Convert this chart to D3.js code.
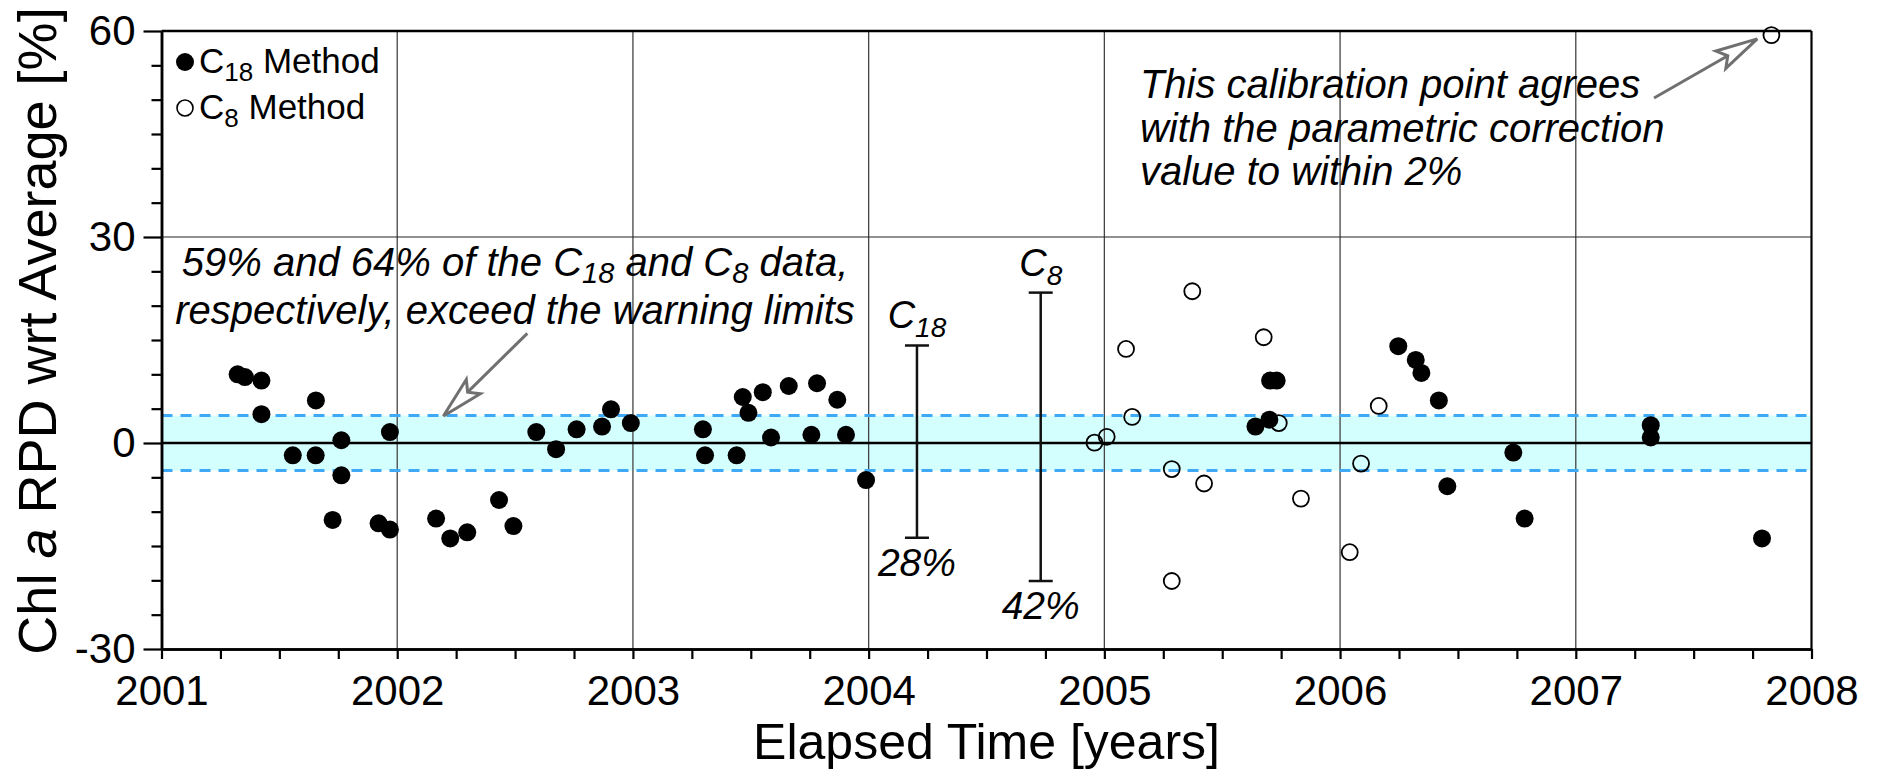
<!DOCTYPE html>
<html>
<head>
<meta charset="utf-8">
<script src="https://cdn.jsdelivr.net/npm/d3@7"></script>
<style>
  html, body { margin: 0; padding: 0; background: #fff; }
  svg { display: block; font-family: "Liberation Sans", Arial, Helvetica, sans-serif; }
</style>
</head>
<body>
<svg id="chart" width="1879" height="773"></svg>
<script>
// ---------------- DATA ----------------
const xMajorTicks = [2001, 2002, 2003, 2004, 2005, 2006, 2007, 2008];
const yMajorTicks = [-30, 0, 30, 60];

// C18 method (filled circles): decimal year, RPD %
const c18Years = [2001.323, 2001.354, 2001.424, 2001.424, 2001.557, 2001.654, 2001.655, 2001.726,
  2001.763, 2001.763, 2001.921, 2001.969, 2001.969, 2002.165, 2002.225, 2002.297, 2002.432, 2002.493,
  2002.590, 2002.674, 2002.761, 2002.869, 2002.907, 2002.991, 2003.297, 2003.306, 2003.440, 2003.466,
  2003.490, 2003.551, 2003.586, 2003.661, 2003.757, 2003.781, 2003.867, 2003.904, 2003.989,
  2005.641, 2005.700, 2005.703, 2005.731, 2006.247, 2006.321, 2006.345, 2006.419, 2006.455,
  2006.735, 2006.783, 2007.318, 2007.318, 2007.790];
const c18Values = [10.0, 9.6, 9.1, 4.2, -1.8, -1.8, 6.2, -11.2,
  0.4, -4.7, -11.7, -12.6, 1.6, -11.0, -13.9, -13.0, -8.3, -12.1,
  1.6, -0.9, 2.0, 2.4, 4.9, 2.9, 2.0, -1.8, -1.8, 6.7,
  4.4, 7.4, 0.8, 8.3, 1.2, 8.7, 6.3, 1.2, -5.4,
  2.4, 3.4, 9.1, 9.1, 14.1, 12.1, 10.2, 6.2, -6.3,
  -1.4, -11.0, 2.6, 0.8, -13.9];

// C8 method (open circles)
const c8Years = [2004.958, 2005.010, 2005.092, 2005.118, 2005.286, 2005.286, 2005.373, 2005.423,
  2005.676, 2005.740, 2005.834, 2006.041, 2006.089, 2006.164, 2007.830];
const c8Values = [0.05, 0.9, 13.7, 3.8, -3.8, -20.1, 22.1, -5.9,
  15.4, 2.9, -8.1, -15.9, -3.0, 5.4, 59.4];

// warning limits (+/- %)
const warningLimits = [-4, 4];

// uncertainty bars: name, x, low, high, label
const barNames = ["18", "8"];
const barYears = [2004.205, 2004.730];
const barLows = [-13.8, -20.1];
const barHighs = [14.2, 21.9];
const barLabels = ["28%", "42%"];

// ---------------- LAYOUT ----------------
const svg = d3.select("#chart");
const x = d3.scaleLinear().domain([2001, 2008]).range([161.5, 1811.5]);
const y = d3.scaleLinear().domain([-30, 60]).range([649, 31]);
const font = '"Liberation Sans", Arial, Helvetica, sans-serif';

const xMinor = d3.range(2001, 2008.001, 0.25).filter(v => Math.abs(v - Math.round(v)) > 1e-6);
const yMinor = d3.range(-30, 60.001, 5).filter(v => v % 30 !== 0);

// band
svg.append("rect")
  .attr("x", x(2001)).attr("width", x(2008) - x(2001))
  .attr("y", y(warningLimits[1])).attr("height", y(warningLimits[0]) - y(warningLimits[1]))
  .attr("fill", "#d4ffff");

// vertical grid lines
svg.append("g").selectAll("line").data(xMajorTicks.slice(1, -1)).join("line")
  .attr("x1", d => x(d)).attr("x2", d => x(d))
  .attr("y1", y(60)).attr("y2", y(-30))
  .attr("stroke", "#444").attr("stroke-width", 1.3);

// horizontal grid at 30
svg.append("line")
  .attr("x1", x(2001)).attr("x2", x(2008)).attr("y1", y(30)).attr("y2", y(30))
  .attr("stroke", "#222").attr("stroke-width", 1.2);

// warning limit dashed lines
svg.append("g").selectAll("line").data(warningLimits).join("line")
  .attr("x1", x(2001)).attr("x2", x(2008))
  .attr("y1", d => y(d)).attr("y2", d => y(d))
  .attr("stroke", "#3fa9f5").attr("stroke-width", 3).attr("stroke-dasharray", "11,8");

// zero line
svg.append("line")
  .attr("x1", x(2001)).attr("x2", x(2008)).attr("y1", y(0)).attr("y2", y(0))
  .attr("stroke", "#000").attr("stroke-width", 2.5);

// top and right borders
svg.append("line").attr("x1", x(2001)).attr("x2", x(2008)).attr("y1", y(60)).attr("y2", y(60))
  .attr("stroke", "#000").attr("stroke-width", 2.5);
svg.append("line").attr("x1", x(2008)).attr("x2", x(2008)).attr("y1", y(60)).attr("y2", y(-30))
  .attr("stroke", "#000").attr("stroke-width", 2.2);

// axes
function styleAxis(g) {
  g.selectAll(".domain").attr("stroke", "#000").attr("stroke-width", 2.5);
  g.selectAll(".tick line").attr("stroke", "#000").attr("stroke-width", 2.2);
  g.selectAll("text").attr("font-family", font).attr("fill", "#000");
}
const xAxisG = svg.append("g").attr("transform", `translate(0,${y(-30)})`)
  .call(d3.axisBottom(x).tickValues(xMajorTicks).tickFormat(d => String(d)).tickSize(10).tickPadding(16).tickSizeOuter(0));
styleAxis(xAxisG);
xAxisG.selectAll("text").attr("font-size", 42);
const xMinorG = svg.append("g").attr("transform", `translate(0,${y(-30)})`)
  .call(d3.axisBottom(x).tickValues(xMinor).tickFormat("").tickSize(10).tickSizeOuter(0));
styleAxis(xMinorG);

const yAxisG = svg.append("g").attr("transform", `translate(${x(2001)},0)`)
  .call(d3.axisLeft(y).tickValues(yMajorTicks).tickFormat(d => String(d)).tickSize(18).tickPadding(8).tickSizeOuter(0));
styleAxis(yAxisG);
yAxisG.selectAll("text").attr("font-size", 42);
const yMinorG = svg.append("g").attr("transform", `translate(${x(2001)},0)`)
  .call(d3.axisLeft(y).tickValues(yMinor).tickFormat("").tickSize(10).tickSizeOuter(0));
styleAxis(yMinorG);

// axis titles
svg.append("text")
  .attr("x", (x(2001) + x(2008)) / 2).attr("y", 759)
  .attr("text-anchor", "middle").attr("font-size", 50).attr("font-family", font)
  .text("Elapsed Time [years]");

const yt = svg.append("text")
  .attr("transform", `translate(56,331) rotate(-90)`)
  .attr("text-anchor", "middle").attr("font-size", 54).attr("font-family", font);
yt.append("tspan").text("Chl ");
yt.append("tspan").attr("font-style", "italic").text("a");
yt.append("tspan").text(" RPD wrt Average [%]");

// uncertainty bars
const bars = barNames.map((n, i) => ({ n, x: barYears[i], lo: barLows[i], hi: barHighs[i], lab: barLabels[i] }));
const bg = svg.append("g").attr("stroke", "#111").attr("stroke-width", 2.5);
bars.forEach(b => {
  bg.append("line").attr("x1", x(b.x)).attr("x2", x(b.x)).attr("y1", y(b.hi)).attr("y2", y(b.lo));
  bg.append("line").attr("x1", x(b.x) - 12).attr("x2", x(b.x) + 12).attr("y1", y(b.hi)).attr("y2", y(b.hi));
  bg.append("line").attr("x1", x(b.x) - 12).attr("x2", x(b.x) + 12).attr("y1", y(b.lo)).attr("y2", y(b.lo));
  const t = svg.append("text").attr("x", x(b.x)).attr("y", y(b.hi) - 17)
    .attr("text-anchor", "middle").attr("font-family", font).attr("font-style", "italic").attr("font-size", 38);
  t.append("tspan").text("C");
  t.append("tspan").attr("font-size", 28).attr("dy", 9).text(b.n);
  svg.append("text").attr("x", x(b.x)).attr("y", y(b.lo) + 38)
    .attr("text-anchor", "middle").attr("font-family", font).attr("font-style", "italic").attr("font-size", 39)
    .text(b.lab);
});

// points
const c18 = c18Years.map((d, i) => ({ x: d, y: c18Values[i] }));
const c8 = c8Years.map((d, i) => ({ x: d, y: c8Values[i] }));
svg.append("g").selectAll("circle").data(c18).join("circle")
  .attr("cx", d => x(d.x)).attr("cy", d => y(d.y)).attr("r", 9).attr("fill", "#000");
svg.append("g").selectAll("circle").data(c8).join("circle")
  .attr("cx", d => x(d.x)).attr("cy", d => y(d.y)).attr("r", 8)
  .attr("fill", "none").attr("stroke", "#000").attr("stroke-width", 1.8);

// legend
const lg = svg.append("g").attr("font-family", font);
lg.append("circle").attr("cx", 185).attr("cy", 62).attr("r", 9).attr("fill", "#000");
lg.append("circle").attr("cx", 185).attr("cy", 108).attr("r", 8).attr("fill", "none").attr("stroke", "#000").attr("stroke-width", 1.6);
[["18", 73], ["8", 119]].forEach(([s, by]) => {
  const t = lg.append("text").attr("x", 199).attr("y", by).attr("font-size", 35);
  t.append("tspan").text("C");
  t.append("tspan").attr("font-size", 26).attr("dy", 8).text(s);
  t.append("tspan").attr("dy", -8).text(" Method");
});

// annotation 1
const a1 = svg.append("g").attr("font-family", font).attr("font-style", "italic").attr("font-size", 40).attr("text-anchor", "middle");
const l1 = a1.append("text").attr("x", x(2002.50)).attr("y", y(24.3));
l1.append("tspan").text("59% and 64% of the C");
l1.append("tspan").attr("font-size", 29).attr("dy", 7).text("18");
l1.append("tspan").attr("dy", -7).text(" and C");
l1.append("tspan").attr("font-size", 29).attr("dy", 7).text("8");
l1.append("tspan").attr("dy", -7).text(" data,");
a1.append("text").attr("x", x(2002.50)).attr("y", y(17.4)).text("respectively, exceed the warning limits");

// annotation 2
const a2Lines = ["This calibration point agrees", "with the parametric correction", "value to within 2%"];
const a2Base = [50.2, 43.9, 37.6];
svg.append("g").attr("font-family", font).attr("font-style", "italic").attr("font-size", 40)
  .selectAll("text").data(a2Lines).join("text")
  .attr("x", x(2005.151)).attr("y", (d, i) => y(a2Base[i])).text(d => d);

// arrows
function arrow(x0, y0, x1, y1) {
  const X0 = x(x0), Y0 = y(y0), X1 = x(x1), Y1 = y(y1);
  const dx = X1 - X0, dy = Y1 - Y0, L = Math.hypot(dx, dy);
  const ux = dx / L, uy = dy / L, px = -uy, py = ux;
  const hl = 42, hw = 10;
  const bx = X1 - ux * hl, by = Y1 - uy * hl;
  const g = svg.append("g").attr("stroke", "#707070").attr("stroke-width", 3).attr("stroke-linejoin", "miter");
  g.append("line").attr("x1", X0).attr("y1", Y0).attr("x2", bx + ux * 8).attr("y2", by + uy * 8);
  g.append("polygon")
    .attr("points", [[X1, Y1], [bx + px * hw, by + py * hw], [bx + ux * 8, by + uy * 8], [bx - px * hw, by - py * hw]].map(p => p.join(",")).join(" "))
    .attr("fill", "#fff");
}
arrow(2002.552, 15.97, 2002.196, 3.93);
arrow(2007.332, 50.24, 2007.770, 58.86);
</script>
</body>
</html>
